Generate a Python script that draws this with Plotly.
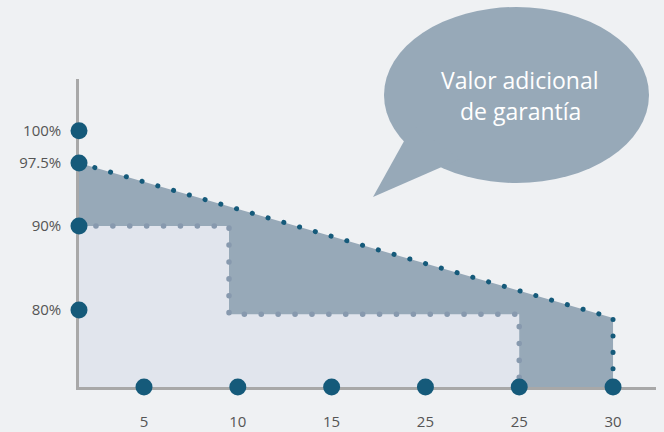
import plotly.graph_objects as go

# ---------------- data ----------------
x_tick_vals = [5, 10, 15, 20, 25, 30]
x_tick_labels = ["5", "10", "15", "25", "25", "30"]

y_tick_vals = [101.35, 97.5, 90, 80]
y_tick_labels = ["100%", "97.5%", "90%", "80%"]

x_start = 1.535
x_end_axis = 32.29
y_base = 70.83
y_top_axis = 107.5

# guarantee line (diagonal) and its end
guar_x = [x_start, 30, 30]
guar_y = [97.5, 79.05, y_base]

# step (base value)
step_x = [x_start, 9.53, 9.53, 25, 25]
step_y = [90, 90, 79.5, 79.5, y_base]

bubble_text = ["Valor adicional", "de garantía"]

# ---------------- style ----------------
BG = "#eff1f3"
LIGHT = "#e1e5ed"
DARK = "#97a9b8"
NAVY = "#155a7a"
LDOT = "#8799ae"
AXIS = "#a8a8a8"
FONT = "Open Sans"
TXT = "#555555"

fig = go.Figure()

# dark area under diagonal
fig.add_trace(go.Scatter(
    x=[guar_x[0], guar_x[1], guar_x[2], guar_x[0]],
    y=[guar_y[0], guar_y[1], guar_y[2], y_base],
    fill="toself", fillcolor=DARK, mode="none", hoverinfo="skip", showlegend=False))

# light area under step
fig.add_trace(go.Scatter(
    x=step_x + [x_start],
    y=step_y + [y_base],
    fill="toself", fillcolor=LIGHT, mode="none", hoverinfo="skip", showlegend=False))

# dotted step line
fig.add_trace(go.Scatter(
    x=step_x, y=step_y, mode="lines",
    line=dict(color=LDOT, width=5.5, dash="0.1px,16.8px"),
    hoverinfo="skip", showlegend=False, cliponaxis=False))

# dotted guarantee line
fig.add_trace(go.Scatter(
    x=guar_x, y=guar_y, mode="lines",
    line=dict(color=NAVY, width=5, dash="0.1px,16.3px"),
    hoverinfo="skip", showlegend=False, cliponaxis=False))

# axis markers
fig.add_trace(go.Scatter(
    x=x_tick_vals, y=[y_base] * len(x_tick_vals), mode="markers",
    marker=dict(color=NAVY, size=17), cliponaxis=False,
    hoverinfo="skip", showlegend=False))
fig.add_trace(go.Scatter(
    x=[x_start] * len(y_tick_vals), y=y_tick_vals, mode="markers",
    marker=dict(color=NAVY, size=17), cliponaxis=False,
    hoverinfo="skip", showlegend=False))

# ---------------- layout ----------------
L, R, T, B = 79, 8, 79, 45
W, H = 664, 432
pw, ph = W - L - R, H - T - B


def px(x):
    return (x - L) / pw


def py(y):
    return (H - B - y) / ph


# speech bubble
fig.add_shape(type="circle", xref="paper", yref="paper",
              x0=px(384), x1=px(649), y0=py(183), y1=py(7),
              fillcolor=DARK, line=dict(width=0), layer="above")
tail = "M {},{} L {},{} L {},{} Z".format(
    px(373), py(197), px(413), py(125), px(460), py(159))
fig.add_shape(type="path", xref="paper", yref="paper", path=tail,
              fillcolor=DARK, line=dict(width=0), layer="above")

for txt, ypix in zip(bubble_text, [80, 111]):
    fig.add_annotation(text=txt, xref="paper", yref="paper",
                       x=px(520), y=py(ypix), showarrow=False,
                       xanchor="center", yanchor="middle",
                       font=dict(family=FONT, size=23, color="white"))

fig.update_layout(
    width=W, height=H,
    margin=dict(l=L, r=R, t=T, b=B),
    paper_bgcolor=BG, plot_bgcolor=BG,
    font=dict(family=FONT, size=15, color=TXT),
    xaxis=dict(range=[x_start, x_end_axis], tickvals=x_tick_vals,
               ticktext=x_tick_labels, showgrid=False, zeroline=False,
               showline=True, linecolor=AXIS, linewidth=2.5,
               ticks="", ticklabelstandoff=19, layer="below traces",
               automargin=False,
               tickfont=dict(family=FONT, size=15, color=TXT),
               fixedrange=True),
    yaxis=dict(range=[y_base, y_top_axis], tickvals=y_tick_vals,
               ticktext=y_tick_labels, showgrid=False, zeroline=False,
               showline=True, linecolor=AXIS, linewidth=2.5,
               ticks="", ticklabelstandoff=12, layer="below traces",
               automargin=False,
               tickfont=dict(family=FONT, size=15, color=TXT),
               fixedrange=True),
)

post = ("var s=document.createElement('style');"
        "s.innerHTML='body{margin:0;padding:0;background:" + BG + ";}"
        ".scatterlayer .js-line{stroke-linecap:round !important;}';"
        "document.head.appendChild(s);")

fig.write_html("out.html", post_script=post, config={"displayModeBar": False})
